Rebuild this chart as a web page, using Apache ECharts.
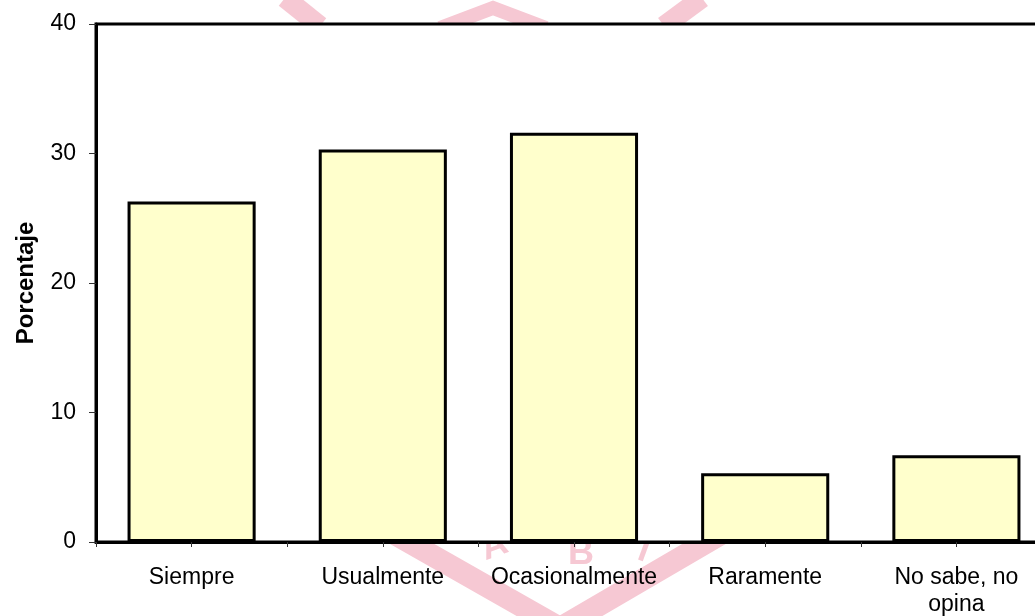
<!DOCTYPE html>
<html>
<head>
<meta charset="utf-8">
<script src="https://cdn.jsdelivr.net/npm/echarts@6/dist/echarts.min.js"></script>
<style>
html,body{margin:0;padding:0;background:#fff;}
#chart{width:1035px;height:616px;}
</style>
</head>
<body>
<div id="chart"></div>
<script>
const categories = ['Siempre', 'Usualmente', 'Ocasionalmente', 'Raramente', 'No sabe, no\nopina'];
const values = [26.3, 30.3, 31.6, 5.3, 6.7];
const yTicks = [0, 10, 20, 30, 40];
const yAxisName = 'Porcentaje';

const pink = '#f6c8d3';
const chart = echarts.init(document.getElementById('chart'));
chart.setOption({
  backgroundColor: '#fff',
  animation: false,
  textStyle: { fontFamily: 'Liberation Sans, Arial, sans-serif' },
  graphic: [
    { type: 'polyline', z: -10, shape: { points: [[285, -2], [320, 26]] }, style: { stroke: pink, lineWidth: 20, fill: null } },
    { type: 'polyline', z: -10, shape: { points: [[440, 28], [493, 8], [546, 28]] }, style: { stroke: pink, lineWidth: 14, fill: null } },
    { type: 'polyline', z: -10, shape: { points: [[702, -2], [664, 26]] }, style: { stroke: pink, lineWidth: 20, fill: null } },
    { type: 'polyline', z: -10, shape: { points: [[370, 520], [560, 628], [745, 520]] }, style: { stroke: pink, lineWidth: 22, fill: null } },
    { type: 'text', z: -10, x: 476, y: 534, rotation: 0.35, style: { text: 'A', fill: pink, font: 'bold 36px Liberation Sans' } },
    { type: 'text', z: -10, x: 568, y: 536, style: { text: 'B', fill: pink, font: 'bold 36px Liberation Sans' } },
    { type: 'text', z: -10, x: 645, y: 534, rotation: -0.35, style: { text: 'I', fill: pink, font: 'bold 34px Liberation Sans' } }
  ],
  grid: {
    left: 96, top: 24, width: 956, bottom: 74,
    outerBoundsMode: 'none', containLabel: false,
    show: true, backgroundColor: '#fff', borderColor: '#000', borderWidth: 3
  },
  xAxis: [
    {
      type: 'category',
      data: categories,
      position: 'bottom',
      axisLine: { lineStyle: { color: '#000', width: 3 } },
      axisTick: { show: true, length: 5, lineStyle: { color: '#333', width: 1 } },
      axisLabel: { color: '#000', fontSize: 23, margin: 22, lineHeight: 27, interval: 0 }
    },
    {
      type: 'category',
      data: categories,
      position: 'bottom',
      axisLine: { show: false },
      axisTick: { show: true, alignWithLabel: true, length: 5, lineStyle: { color: '#333', width: 1 } },
      axisLabel: { show: false }
    }
  ],
  yAxis: {
    type: 'value',
    min: yTicks[0], max: yTicks[yTicks.length - 1], interval: 10,
    name: yAxisName,
    nameLocation: 'middle',
    nameGap: 58,
    nameTextStyle: { color: '#000', fontSize: 24, fontWeight: 'bold' },
    axisLine: { show: true, lineStyle: { color: '#000', width: 3 } },
    axisTick: { show: true, length: 7, lineStyle: { color: '#333', width: 1 } },
    axisLabel: { color: '#000', fontSize: 23, margin: 20 },
    splitLine: { show: false }
  },
  series: [{
    type: 'bar',
    data: values,
    barWidth: '67%',
    itemStyle: { color: '#ffffcc', borderColor: '#000', borderWidth: 3 }
  }]
});
</script>
</body>
</html>
